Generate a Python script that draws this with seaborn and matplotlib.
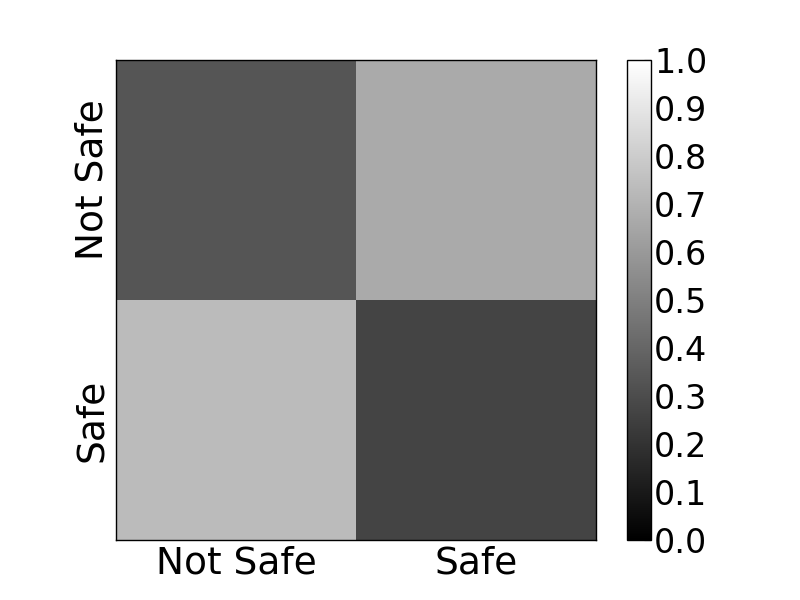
import numpy as np
import pandas as pd
import matplotlib
matplotlib.use("Agg")
import matplotlib.pyplot as plt
import seaborn as sns

labels = ["Not Safe", "Safe"]
row_not_safe = [1/3, 2/3]
row_safe = [0.733, 0.267]
cbar_ticks = [0.0, 0.1, 0.2, 0.3, 0.4, 0.5, 0.6, 0.7, 0.8, 0.9, 1.0]

df = pd.DataFrame([row_not_safe, row_safe], index=labels, columns=labels)

sns.set_style("white")
plt.rcParams["font.family"] = ["DejaVu Sans"]
plt.rcParams["text.color"] = "black"
plt.rcParams["xtick.color"] = "black"
plt.rcParams["ytick.color"] = "black"
plt.rcParams["axes.labelcolor"] = "black"

fig = plt.figure(figsize=(8, 6), dpi=100)
ax = fig.add_axes([0.145, 0.1, 0.6, 0.8])
cax = fig.add_axes([0.784, 0.1, 0.03, 0.8])

sns.heatmap(df, ax=ax, cbar_ax=cax, cmap="gray", vmin=0, vmax=1,
            square=False, linewidths=0)

for s in ax.spines.values():
    s.set_visible(True)
    s.set_color("black")
    s.set_linewidth(1.0)
ax.set_xticks([0.5, 1.5])
ax.set_xticklabels(labels, fontsize=27, rotation=0, color="black")
ax.set_yticks([0.5, 1.5])
ax.set_yticklabels(labels, fontsize=27, rotation=90, va="center", color="black")
ax.tick_params(axis="both", which="major", direction="in", length=5, width=0.8,
               color="black", top=True, right=True, bottom=True, left=True, pad=4)
ax.set_xlabel("")
ax.set_ylabel("")

cb = ax.collections[0].colorbar
cb.outline.set_linewidth(1.0)
cb.outline.set_edgecolor("black")
cb.set_ticks(cbar_ticks)
cb.set_ticklabels([f"{t:.1f}" for t in cbar_ticks])
cax.tick_params(labelsize=24, labelcolor="black", direction="in", length=5, width=0.8,
                color="black", right=True, left=False, pad=2)

fig.savefig("out.png", dpi=100)
